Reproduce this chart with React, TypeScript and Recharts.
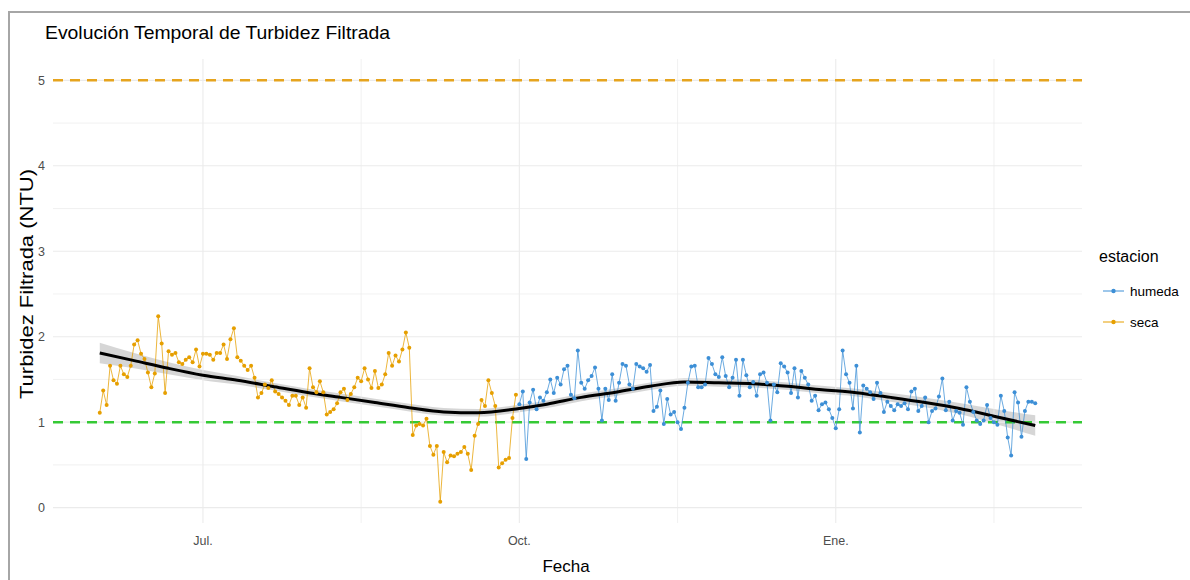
import React from 'react';
import { ComposedChart, Line, Area, XAxis, YAxis, ReferenceLine } from 'recharts';

// day offsets are counted from 1 July (Jul. = 0, Oct. = 92, Ene. = 184)
const SECA_START = -30;
const secaValues = [
  1.11, 1.37, 1.20, 1.66, 1.49, 1.45, 1.66, 1.56, 1.53, 1.66,
  1.91, 1.96, 1.80, 1.74, 1.58, 1.41, 1.57, 2.24, 1.92, 1.34,
  1.83, 1.79, 1.81, 1.70, 1.68, 1.73, 1.76, 1.70, 1.85, 1.65,
  1.80, 1.80, 1.79, 1.73, 1.81, 1.81, 1.91, 1.74, 1.97, 2.10,
  1.76, 1.72, 1.66, 1.61, 1.66, 1.52, 1.29, 1.34, 1.44, 1.40,
  1.49, 1.36, 1.33, 1.29, 1.25, 1.20, 1.31, 1.31, 1.20, 1.29,
  1.17, 1.63, 1.41, 1.35, 1.48, 1.35, 1.09, 1.12, 1.15, 1.22,
  1.35, 1.39, 1.26, 1.33, 1.41, 1.52, 1.48, 1.63, 1.50, 1.40,
  1.60, 1.40, 1.44, 1.56, 1.81, 1.66, 1.78, 1.71, 1.85, 2.05,
  1.87,
  0.85, 0.96, 0.98, 0.96, 1.04, 0.72, 0.62, 0.72, 0.07, 0.65,
  0.53, 0.61, 0.60, 0.63, 0.65, 0.71, 0.63, 0.44, 0.84, 0.98,
  1.26, 1.19, 1.49, 1.34, 1.19, 0.47, 0.52, 0.56, 0.58, 1.05,
  1.32,
];

const HUMEDA_START = 92;
const humedaValues = [
  1.21, 1.36, 0.57, 1.23, 1.38, 1.15, 1.29, 1.25, 1.35, 1.50,
  1.34, 1.52, 1.44, 1.62, 1.66, 1.32, 1.28, 1.84, 1.46, 1.39,
  1.49, 1.54, 1.64, 1.39, 1.02, 1.39, 1.26, 1.56, 1.25, 1.46,
  1.68, 1.66, 1.44, 1.39, 1.68, 1.65, 1.63, 1.59, 1.67, 1.13,
  1.18, 1.37, 0.98, 1.27, 1.09, 1.12, 1.00, 0.92, 1.17, 1.46,
  1.65, 1.66, 1.41, 1.41, 1.44, 1.75, 1.68, 1.56, 1.53, 1.76,
  1.54, 1.41, 1.52, 1.73, 1.31, 1.73, 1.55, 1.41, 1.47, 1.31,
  1.56, 1.58, 1.46, 1.02, 1.44, 1.35, 1.69, 1.65, 1.58, 1.34,
  1.63, 1.29, 1.60, 1.52, 1.44, 1.25, 1.31, 1.14, 1.21, 1.23,
  1.15, 1.05, 0.93, 1.15, 1.84, 1.56, 1.46, 1.16, 1.66, 0.88,
  1.43, 1.39, 1.35, 1.27, 1.46, 1.34, 1.12, 1.24, 1.19, 1.14,
  1.21, 1.19, 1.22, 1.15, 1.36, 1.39, 1.13, 1.19, 1.29, 1.00,
  1.13, 1.16, 1.30, 1.51, 1.14, 1.24, 1.02, 1.13, 1.11, 0.97,
  1.41, 1.24, 1.12, 1.02, 0.98, 1.02, 1.20, 1.05, 1.00, 0.97,
  1.31, 1.13, 0.82, 0.61, 1.35, 1.23, 0.83, 1.13, 1.24, 1.24,
  1.22,
];

// loess smooth
const smoothDays = [-30, -20, -10, 0, 10, 20, 30, 40, 50, 60, 70, 80, 92, 100, 110, 120, 130, 140, 150, 160, 170, 180, 190, 200, 210, 220, 230, 242];
const smoothFit = [1.81, 1.72, 1.63, 1.55, 1.49, 1.42, 1.35, 1.29, 1.23, 1.17, 1.12, 1.11, 1.16, 1.21, 1.29, 1.35, 1.42, 1.47, 1.46, 1.45, 1.42, 1.38, 1.345, 1.29, 1.23, 1.16, 1.07, 0.96];
const smoothSe = [0.12, 0.09, 0.07, 0.06, 0.05, 0.045, 0.045, 0.045, 0.045, 0.045, 0.045, 0.045, 0.045, 0.045, 0.045, 0.045, 0.045, 0.045, 0.045, 0.045, 0.045, 0.045, 0.045, 0.05, 0.055, 0.065, 0.085, 0.12];

const xTicks = [0, 92, 184];
const xTickLabels = ['Jul.', 'Oct.', 'Ene.'];
const xMinor = [46, 138, 230];
const yTicks = [0, 1, 2, 3, 4, 5];
const yMinor = [0.5, 1.5, 2.5, 3.5, 4.5];
const upperLimit = 5;
const lowerLimit = 1;

const seriesNames = ['humeda', 'seca'];
const seriesColors = ['#3D8FD6', '#E69F00'];

const secaData = secaValues.map((v, i) => ({ day: SECA_START + i, v }));
const humedaData = humedaValues.map((v, i) => ({ day: HUMEDA_START + i, v }));
const smoothData = smoothDays.map((d, i) => ({
  day: d,
  fit: smoothFit[i],
  band: [smoothFit[i] - smoothSe[i], smoothFit[i] + smoothSe[i]],
}));

const FONT = '"Liberation Sans", Arial, Helvetica, sans-serif';
const GRID = '#ebebeb';

const YTitle = () => (
  <text
    x={27}
    y={284}
    transform="rotate(-90 27 284)"
    textAnchor="middle"
    dominantBaseline="central"
    fontFamily={FONT}
    fontSize={18}
    fill="#000"
    textLength={230}
    lengthAdjust="spacingAndGlyphs"
  >
    Turbidez Filtrada (NTU)
  </text>
);

const XTitle = () => (
  <text x={566} y={572} textAnchor="middle" fontFamily={FONT} fontSize={17} fill="#000">
    Fecha
  </text>
);

export default function App() {
  return (
    <div style={{ position: 'absolute', left: 0, top: 0, width: 1190, height: 580, background: '#fff' }}>
      <ComposedChart
        width={1190}
        height={580}
        margin={{ top: 59, right: 108, bottom: 0, left: 0 }}
        style={{ fontFamily: FONT }}
      >
        <XAxis
          type="number"
          dataKey="day"
          domain={[-43.6, 255.6]}
          allowDataOverflow
          ticks={xTicks}
          tickFormatter={(v: number) => xTickLabels[xTicks.indexOf(v)] ?? ''}
          axisLine={false}
          tickLine={false}
          tickMargin={7}
          height={57}
          tick={{ fill: '#4d4d4d', fontSize: 12.5, fontFamily: FONT }}
          label={<XTitle />}
        />
        <YAxis
          type="number"
          domain={[-0.18, 5.25]}
          allowDataOverflow
          ticks={yTicks}
          axisLine={false}
          tickLine={false}
          width={53}
          tick={{ fill: '#4d4d4d', fontSize: 12.5, fontFamily: FONT }}
          label={<YTitle />}
        />
        {yMinor.map((y) => (
          <ReferenceLine key={'ym' + y} y={y} stroke={GRID} strokeWidth={0.7} />
        ))}
        {yTicks.map((y) => (
          <ReferenceLine key={'yM' + y} y={y} stroke={GRID} strokeWidth={1.1} />
        ))}
        {xMinor.map((x) => (
          <ReferenceLine key={'xm' + x} x={x} stroke={GRID} strokeWidth={0.7} />
        ))}
        {xTicks.map((x) => (
          <ReferenceLine key={'xM' + x} x={x} stroke={GRID} strokeWidth={1.1} />
        ))}
        <ReferenceLine y={upperLimit} stroke="#E6A41E" strokeWidth={2.5} strokeDasharray="10 7" />
        <ReferenceLine y={lowerLimit} stroke="#35C935" strokeWidth={2.5} strokeDasharray="10 7" />
        <Line
          data={secaData}
          dataKey="v"
          name="seca"
          type="linear"
          stroke={seriesColors[1]}
          strokeWidth={0.9}
          strokeOpacity={0.85}
          dot={{ r: 2, fill: seriesColors[1], stroke: 'none' }}
          activeDot={false}
          isAnimationActive={false}
        />
        <Line
          data={humedaData}
          dataKey="v"
          name="humeda"
          type="linear"
          stroke={seriesColors[0]}
          strokeWidth={0.9}
          strokeOpacity={0.85}
          dot={{ r: 2, fill: seriesColors[0], stroke: 'none' }}
          activeDot={false}
          isAnimationActive={false}
        />
        <Area
          data={smoothData}
          dataKey="band"
          type="monotone"
          stroke="none"
          fill="#999999"
          fillOpacity={0.4}
          isAnimationActive={false}
        />
        <Line
          data={smoothData}
          dataKey="fit"
          type="monotone"
          stroke="#000"
          strokeWidth={3}
          dot={false}
          activeDot={false}
          isAnimationActive={false}
        />
      </ComposedChart>
      <svg
        width={1190}
        height={580}
        style={{ position: 'absolute', left: 0, top: 0, pointerEvents: 'none' }}
      >
        <rect x={8} y={11} width={1182} height={2} fill="#a6a6a6" />
        <rect x={8} y={11} width={2} height={569} fill="#a6a6a6" />
        <text
          x={45}
          y={39}
          fontFamily={FONT}
          fontSize={18.5}
          fill="#000"
          textLength={345}
          lengthAdjust="spacingAndGlyphs"
        >
          Evolución Temporal de Turbidez Filtrada
        </text>
        <text x={1099} y={262} fontFamily={FONT} fontSize={16} fill="#000">
          estacion
        </text>
        {seriesNames.map((name, i) => {
          const cy = 291 + i * 31;
          return (
            <g key={name}>
              <line x1={1103} x2={1124} y1={cy} y2={cy} stroke={seriesColors[i]} strokeWidth={1} />
              <circle cx={1113.5} cy={cy} r={2.2} fill={seriesColors[i]} />
              <text x={1130} y={cy + 5} fontFamily={FONT} fontSize={13.5} fill="#000">
                {name}
              </text>
            </g>
          );
        })}
      </svg>
    </div>
  );
}
